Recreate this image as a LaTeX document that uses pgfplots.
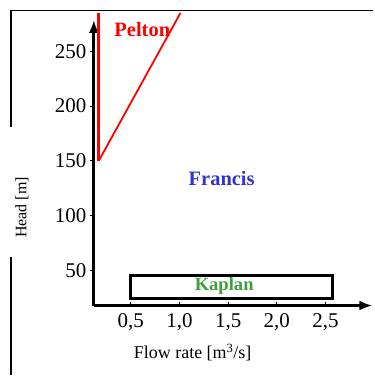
\documentclass[border=0pt]{standalone}
\usepackage{pgfplots}
\pgfplotsset{compat=1.18}
\usepackage{fontspec}
\setmainfont{Liberation Serif}
\usetikzlibrary{arrows.meta}
\definecolor{peltonred}{RGB}{255,0,0}
\definecolor{francisblue}{RGB}{51,51,204}
\definecolor{kaplangreen}{RGB}{60,160,60}
\begin{document}
\begin{tikzpicture}
\begin{axis}[
  x=97.5pt, y=1.098pt,
  xmin=0.12, xmax=2.98, ymin=18.1, ymax=278.6,
  axis lines=left,
  axis line style={line width=3pt, -{Latex[length=13pt,width=10pt]}},
  clip=false,
  xtick={0.5,1.0,1.5,2.0,2.5},
  xticklabels={{0,5},{1,0},{1,5},{2,0},{2,5}},
  ytick={50,100,150,200,250},
  yticklabels={50,100,150,200,250},
  xtick align=inside, ytick align=outside,
  major tick length=4pt,
  tick style={black, line width=1pt},
  tick label style={font=\fontsize{21}{24}\selectfont},
  xticklabel style={yshift=-5pt},
  xlabel={Flow rate [m\textsuperscript{3}/s]},
  ylabel={Head [m]},
  xlabel style={font=\fontsize{18}{22}\selectfont, at={(axis description cs:0.355,-0.164)}, anchor=center},
  ylabel style={font=\fontsize{16}{20}\selectfont, at={(axis description cs:-0.258,0.343)}, anchor=center},
]
% Pelton region
\addplot[peltonred, line width=2.6pt, line cap=butt] coordinates {(0.17,150) (0.17,285)};
\addplot[peltonred, line width=1.8pt] coordinates {(0.17,150) (1.01,285)};
% Kaplan region
\addplot[black, line width=3.2pt] coordinates {(0.5,24.5) (2.57,24.5) (2.57,45.5) (0.5,45.5) (0.5,24.5)} -- cycle;
% labels
\node[anchor=base, text=peltonred, font=\fontsize{20.5}{24}\selectfont\bfseries] at (axis cs:0.618,263.4) {Pelton};
\node[anchor=base, text=francisblue, font=\fontsize{20.5}{24}\selectfont\bfseries] at (axis cs:1.433,127.7) {Francis};
\node[anchor=base, text=kaplangreen, font=\fontsize{18.6}{22}\selectfont\bfseries] at (axis cs:1.459,31.8) {Kaplan};
% frame fragments
\draw[black, line width=1.3pt] (axis cs:2.992,287.3) -- (axis cs:-0.731,287.3) -- (axis cs:-0.731,181.1);
\draw[black, line width=1.3pt] (axis cs:-0.731,62.8) -- (axis cs:-0.731,-45.6);
\path (axis cs:-0.844,-45.6) rectangle (axis cs:2.992,296.8);
\end{axis}
\end{tikzpicture}
\end{document}
